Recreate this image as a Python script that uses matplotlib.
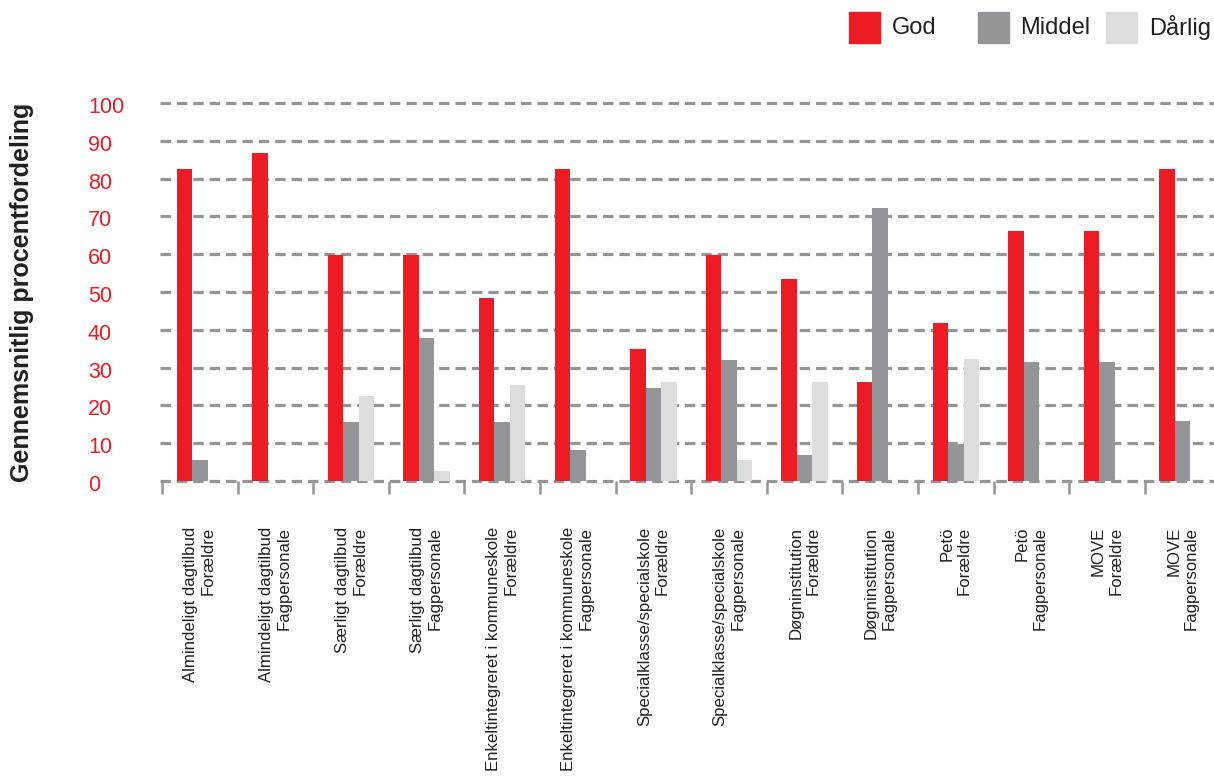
import matplotlib
matplotlib.use("Agg")
import matplotlib.pyplot as plt
from matplotlib.patches import Rectangle
import matplotlib.transforms as mtransforms
import numpy as np

categories = [
    "Almindeligt dagtilbud\nForældre",
    "Almindeligt dagtilbud\nFagpersonale",
    "Særligt dagtilbud\nForældre",
    "Særligt dagtilbud\nFagpersonale",
    "Enkeltintegreret i kommuneskole\nForældre",
    "Enkeltintegreret i kommuneskole\nFagpersonale",
    "Specialklasse/specialskole\nForældre",
    "Specialklasse/specialskole\nFagpersonale",
    "Døgninstitution\nForældre",
    "Døgninstitution\nFagpersonale",
    "Petö\nForældre",
    "Petö\nFagpersonale",
    "MOVE\nForældre",
    "MOVE\nFagpersonale",
]
god = [82.5, 86.8, 59.8, 59.8, 48.3, 82.5, 35.0, 59.8, 53.4, 26.3, 41.7, 66.2, 66.2, 82.5]
middel = [5.6, 0, 15.7, 37.7, 15.7, 8.2, 24.7, 32.1, 6.9, 72.2, 9.9, 31.6, 31.6, 16.0]
darlig = [0, 0, 22.6, 2.7, 25.5, 0, 26.3, 5.6, 26.3, 0, 32.4, 0, 0, 0]
series_names = ["God", "Middel", "Dårlig"]
yticks = [0, 10, 20, 30, 40, 50, 60, 70, 80, 90, 100]

RED = "#ED1C24"
MID = "#939598"
LIGHT = "#DCDDDE"
GRID = "#939598"
TXT = "#231F20"

plt.rcParams['font.family'] = ['Liberation Sans', 'DejaVu Sans']
plt.rcParams['lines.scale_dashes'] = False

W, H = 1214, 777
fig = plt.figure(figsize=(W / 100, H / 100), dpi=100)

# axes geometry in pixels
x_left = 162
grp = 75.6
y0 = 481.0
ppu = 3.78
ymin, ymax = -1.0, 105.0
ax_bottom_px = y0 + (0 - ymin) * ppu
ax_top_px = y0 - ymax * ppu
n = len(categories)
xmax = (W - x_left) / grp
ax = fig.add_axes([x_left / W, (H - ax_bottom_px) / H, (W - x_left) / W,
                   (ax_bottom_px - ax_top_px) / H])
ax.set_xlim(0, xmax)
ax.set_ylim(ymin, ymax)

for s in ax.spines.values():
    s.set_visible(False)

# grid lines
for t in yticks:
    ax.axhline(t, xmin=-2 / (W - x_left), color=GRID, lw=2.3, dashes=(7.5, 4.3),
               zorder=0, clip_on=False)

x = np.arange(n) + 0.5
bw = 0.205
ax.bar(x - bw, god, bw, color=RED, zorder=2, align='center')
ax.bar(x, middel, bw, color=MID, zorder=2, align='center')
ax.bar(x + bw, darlig, bw, color=LIGHT, zorder=2, align='center')

# group boundary tick marks
ax.vlines(np.arange(n), -3.4, 0, color=GRID, lw=1.8, clip_on=False, zorder=1)

# y tick labels (left-aligned, slightly below the grid lines)
ax.set_yticks(yticks)
ax.set_yticklabels([])
ax.tick_params(axis='y', length=0)
ylab_tr = mtransforms.offset_copy(ax.get_yaxis_transform(), fig=fig,
                                  x=-(x_left - 88), y=-4.5, units='dots')
for t in yticks:
    ax.text(0, t, str(t), transform=ylab_tr, ha='left', va='center',
            fontsize=15.5, color=RED)

# x tick labels
ax.set_xticks(x)
ax.set_xticklabels(categories, rotation=90, fontsize=12.1, color=TXT,
                   va='top', ha='center', multialignment='right', linespacing=1.22)
ax.tick_params(axis='x', length=0, pad=(527 - 481) * 0.72 - 3)

fig.text(22 / W, 1 - 292 / H, "Gennemsnitlig procentfordeling", rotation=90,
         fontsize=18, fontweight='bold', color=TXT, ha='center', va='center')

# legend
leg_items = [(849, 892, RED), (978, 1020, MID), (1106, 1149, LIGHT)]
for (sx, tx, c), name in zip(leg_items, series_names):
    fig.patches.append(Rectangle((sx / W, 1 - 43 / H), 31 / W, 31 / H,
                                 transform=fig.transFigure, color=c, figure=fig))
    fig.text(tx / W, 1 - 27.5 / H, name, fontsize=17, color=TXT,
             ha='left', va='center')

fig.savefig("out.png", dpi=100)
